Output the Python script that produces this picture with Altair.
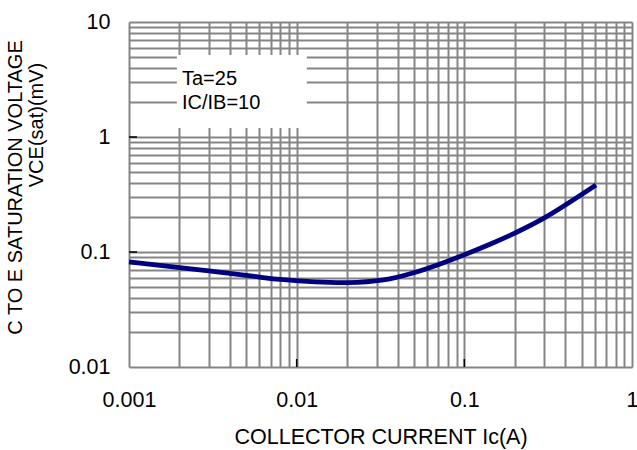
import altair as alt
import pandas as pd

# Curve data
ic = [0.001, 0.002, 0.005, 0.008, 0.02, 0.033, 0.05, 0.078, 0.148, 0.2, 0.3, 0.61]
vce = [0.082, 0.0732, 0.0627, 0.0577, 0.0541, 0.0571, 0.066, 0.0823, 0.1198, 0.146, 0.198, 0.383]

x_ticks = [round(k * 10 ** e, 6) for e in (-3, -2, -1) for k in range(1, 10)] + [1]
y_ticks = [round(k * 10 ** e, 6) for e in (-2, -1, 0) for k in range(1, 10)] + [10]

note_lines = ["Ta=25", "IC/IB=10"]
note_x = [0.00207, 0.00207]
note_y = [2.83, 1.75]
box_x = [0.00193, 0.0115]
box_y = [1.2, 5.16]

FONT = "Liberation Sans"

df = pd.DataFrame({"ic": ic, "vce": vce})
xs = alt.Scale(type="log", domain=[0.001, 1])
ys = alt.Scale(type="log", domain=[0.01, 10])

x_axis = alt.Axis(values=x_ticks, grid=True, gridColor="#858585", gridWidth=2,
                  ticks=False, domain=False, labelFlush=False, labelOverlap=False,
                  labelExpr="indexof([0.001,0.01,0.1,1], datum.value) >= 0 ? format(datum.value, '~g') : ''",
                  labelFontSize=21.5, labelFont=FONT, labelColor="black", labelPadding=22,
                  title="COLLECTOR CURRENT Ic(A)", titleFontSize=21.5, titleFont=FONT,
                  titleFontWeight="normal", titleColor="black", titlePadding=16)
y_axis = alt.Axis(values=y_ticks, grid=True, gridColor="#858585", gridWidth=2,
                  ticks=False, domain=False, labelFlush=False, labelOverlap=False,
                  labelExpr="indexof([0.01,0.1,1,10], datum.value) >= 0 ? format(datum.value, '~g') : ''",
                  labelFontSize=21.5, labelFont=FONT, labelColor="black", labelPadding=19,
                  title="C TO E SATURATION VOLTAGE", titleFontSize=20, titleFont=FONT,
                  titleFontWeight="normal", titleColor="black",
                  titleX=-114, titleY=165, titleAlign="center", titleBaseline="middle", titleAngle=270)

base = alt.Chart(df)

line = base.mark_line(color="#000080", strokeWidth=4.8, interpolate="catmull-rom").encode(
    x=alt.X("ic:Q", scale=xs, axis=x_axis),
    y=alt.Y("vce:Q", scale=ys, axis=y_axis),
)

box = alt.Chart(pd.DataFrame({"x1": [box_x[0]], "x2": [box_x[1]], "y1": [box_y[0]], "y2": [box_y[1]]})).mark_rect(
    color="white").encode(
    x=alt.X("x1:Q", scale=xs), x2="x2:Q", y=alt.Y("y1:Q", scale=ys), y2="y2:Q")

notes = alt.Chart(pd.DataFrame({"t": note_lines, "x": note_x, "y": note_y})).mark_text(
    align="left", baseline="alphabetic", fontSize=20, font=FONT, color="black").encode(
    x=alt.X("x:Q", scale=xs), y=alt.Y("y:Q", scale=ys), text="t:N")

xt = alt.Chart(pd.DataFrame({"v": [0.01, 0.1]})).mark_rule(color="black", strokeWidth=1.5).encode(
    x=alt.X("v:Q", scale=xs), y=alt.value(345), y2=alt.value(337))
yt = alt.Chart(pd.DataFrame({"v": [1, 0.1]})).mark_rule(color="black", strokeWidth=1.5).encode(
    y=alt.Y("v:Q", scale=ys), x=alt.value(0), x2=alt.value(8))

ytitle2 = alt.Chart(pd.DataFrame({"t": ["VCE(sat)(mV)"]})).mark_text(
    angle=270, align="center", baseline="middle", fontSize=20, font=FONT, color="black").encode(
    x=alt.value(-92), y=alt.value(103), text="t:N")

chart = alt.layer(box, xt, yt, line, notes, ytitle2).properties(
    width=503, height=345,
    padding={"left": 129, "top": 22, "right": 5, "bottom": 83},
    autosize="none",
).configure_view(stroke="black", strokeWidth=2.5).configure(background="white")

chart.save("out.html", embed_options={"renderer": "svg", "actions": False})
